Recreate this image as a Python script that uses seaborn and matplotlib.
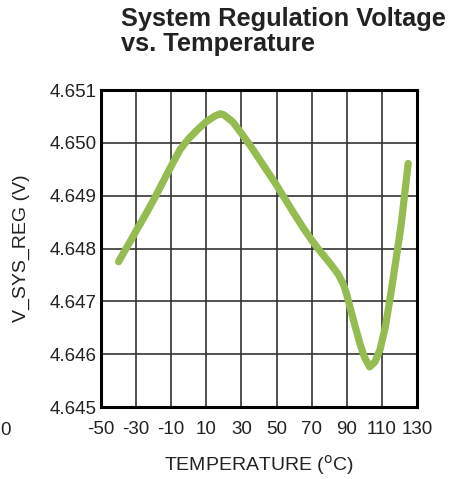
import numpy as np
import pandas as pd
import matplotlib
matplotlib.use("Agg")
import matplotlib.pyplot as plt
import seaborn as sns

# values
temperature = [-40, -35, -30, -25, -20, -15, -10, -5, 0, 5, 10, 15, 18, 20,
               25, 30, 35, 40, 45, 50, 55, 60, 65, 70, 75, 80, 85, 88, 90,
               92, 95, 97.5, 100, 103, 106, 109, 112, 115, 118, 121, 125]
v_sys_reg = [4.64775, 4.64804, 4.64833, 4.64862, 4.64892, 4.64924, 4.64956,
             4.64987, 4.65008, 4.65025, 4.65040, 4.65051, 4.65055, 4.65053,
             4.65040, 4.65018, 4.64995, 4.64970, 4.64945, 4.64920, 4.64893,
             4.64866, 4.64840, 4.64816, 4.64794, 4.64774, 4.64752, 4.64733,
             4.64713, 4.64687, 4.64650, 4.64620, 4.64595, 4.64576, 4.64585,
             4.64609, 4.64652, 4.64712, 4.64778, 4.64845, 4.64961]
x_ticks = [-50, -30, -10, 10, 30, 50, 70, 90, 110, 130]
y_ticks = [4.645, 4.646, 4.647, 4.648, 4.649, 4.650, 4.651]

df = pd.DataFrame({"T": temperature, "V": v_sys_reg})

sns.set_style("white")
plt.rcParams["font.family"] = ["Liberation Sans", "DejaVu Sans"]
txt = "#222222"

fig = plt.figure(figsize=(4.61, 4.79), dpi=100)
ax = fig.add_axes([0.219, 0.1503, 0.6855, 0.6618])

sns.lineplot(data=df, x="T", y="V", ax=ax, color="#94bc50", linewidth=5.2,
             solid_capstyle="round", solid_joinstyle="round")

ax.set_xlim(-50, 130)
ax.set_ylim(4.645, 4.651)
ax.set_xticks(x_ticks)
ax.set_xticklabels([str(t) for t in x_ticks], fontsize=13.5)
ax.set_yticks(y_ticks)
ax.set_yticklabels([f"{v:.3f}" for v in y_ticks], fontsize=13.5)
ax.tick_params(axis="x", length=0, pad=10, colors=txt)
ax.tick_params(axis="y", length=0, pad=3, colors=txt)
ax.grid(True, color="#333333", linewidth=1.2)
for s in ax.spines.values():
    s.set_visible(True)
    s.set_color("black")
    s.set_linewidth(2.2)

ax.set_xlabel(r"TEMPERATURE ($^{\mathrm{o}}$C)", fontsize=14, labelpad=11,
              color=txt)
ax.set_ylabel("V_SYS_REG (V)", fontsize=14, labelpad=14, color=txt)

fig.text(0.262, 0.985, "System Regulation Voltage\nvs. Temperature",
         fontsize=18.3, fontweight="bold", ha="left", va="top",
         linespacing=1.02, color=txt)
fig.text(0.0, 0.102, "0", fontsize=13.5, ha="left", va="center", color=txt)

fig.savefig("out.png", dpi=100)
